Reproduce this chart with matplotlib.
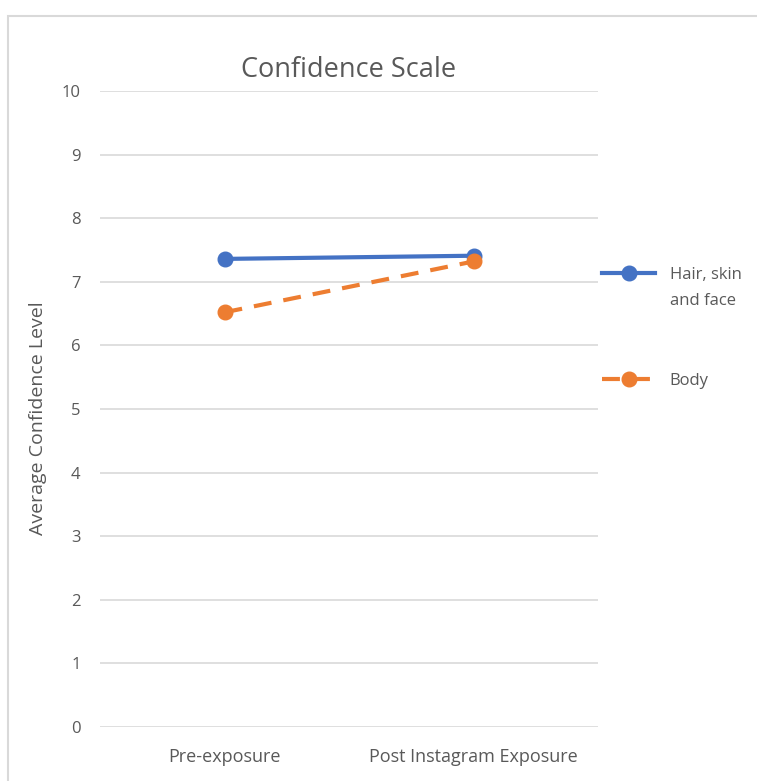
import matplotlib.pyplot as plt
from matplotlib.patches import Rectangle

# Survey averages before and after viewing Instagram content
categories = ['Pre-exposure', 'Post Instagram Exposure']
hair_skin_face = [7.36, 7.41]
body = [6.52, 7.32]
series_names = ['Hair, skin\nand face', 'Body']
y_ticks = list(range(0, 11))

BLUE = '#4472c4'
ORANGE = '#ed7d31'
TEXT = '#595959'
GRID = '#d9d9d9'


def main():
    plt.rcParams['font.family'] = ['Open Sans', 'DejaVu Sans']

    fig = plt.figure(figsize=(7.57, 7.81), dpi=100)
    ax = fig.add_axes([100 / 757, 54 / 781, 498 / 757, 636 / 781])

    # chart frame running off the right and bottom edges
    fig.patches.append(Rectangle((7.5 / 757, -0.05), 1.1, 1 - 16.5 / 781 + 0.05,
                                 transform=fig.transFigure, fill=False,
                                 edgecolor='#d9d9d9', linewidth=1.5))

    x = list(range(len(categories)))
    ax.plot(x, hair_skin_face, color=BLUE, linewidth=3, marker='o',
            markersize=10.5, label=series_names[0])
    ax.plot(x, body, color=ORANGE, linewidth=3, marker='o', markersize=10.5,
            linestyle=(0, (4.3, 2.9)), label=series_names[1])

    ax.set_xlim(-0.5, 1.5)
    ax.set_ylim(0, 10)
    ax.set_yticks(y_ticks)
    ax.set_xticks(x)
    ax.set_xticklabels(categories)
    ax.grid(axis='y', color=GRID, linewidth=1.2)
    ax.set_axisbelow(True)
    for s in ax.spines.values():
        s.set_visible(False)
    ax.tick_params(axis='y', length=0, labelsize=12, colors=TEXT, pad=14)
    ax.tick_params(axis='x', length=0, labelsize=13, colors=TEXT, pad=15)

    ax.set_ylabel('Average Confidence Level', fontsize=14, color=TEXT)
    ax.yaxis.set_label_coords(-0.106, 0.486)
    ax.set_title('Confidence Scale', fontsize=19.5, color=TEXT, pad=10)

    leg = ax.legend(loc='upper left', bbox_to_anchor=(602 / 757, 1 - 267 / 781),
                    bbox_transform=fig.transFigure, frameon=False,
                    fontsize=12, handlelength=3.2, handletextpad=0.85,
                    labelspacing=3.85, borderaxespad=0, borderpad=0)
    for t in leg.get_texts():
        t.set_color(TEXT)
        t.set_linespacing(1.8)
    # keep each legend line level with the first line of its label
    for col in leg._legend_handle_box.get_children():
        for row in col.get_children():
            row.align = 'top'

    fig.savefig('out.png', dpi=100, facecolor='white')
    plt.close(fig)


if __name__ == '__main__':
    main()
